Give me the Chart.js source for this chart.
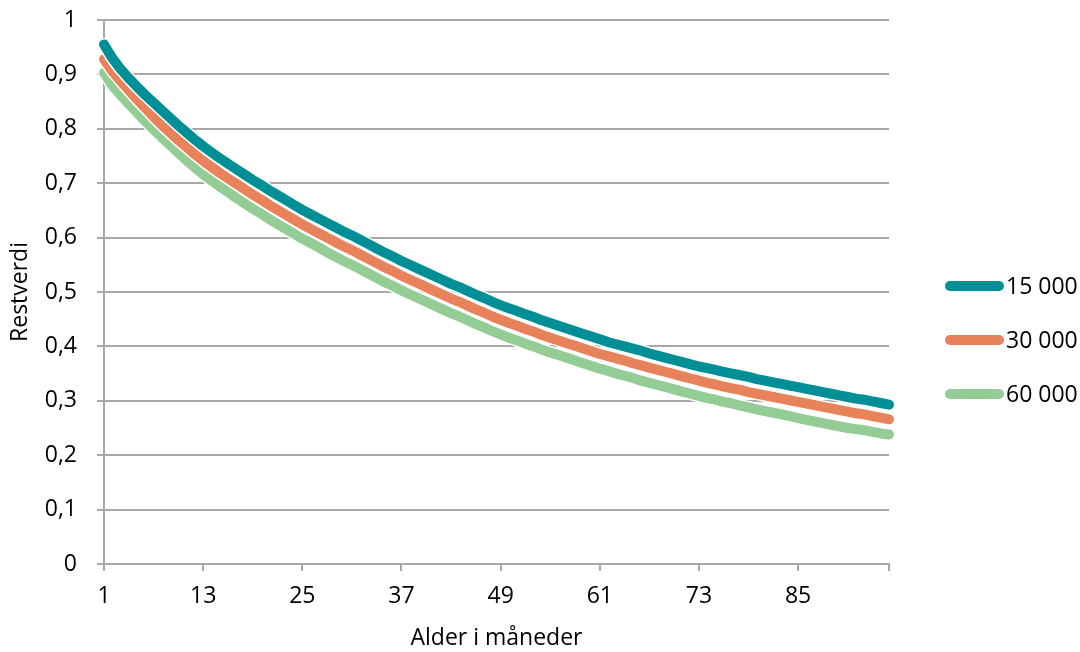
<!DOCTYPE html>
<html>
<head>
<meta charset="utf-8">
<title>Restverdi</title>
<script src="https://cdn.jsdelivr.net/npm/chart.js@4/dist/chart.umd.min.js"></script>
<style>
  html, body { margin: 0; padding: 0; background: #fff; }
  canvas { display: block; }
</style>
</head>
<body>
<canvas id="restverdi-chart" width="1080" height="652"></canvas>
<script>
// months 1..96
const months = Array.from({ length: 96 }, (_, i) => String(i + 1));
const shownMonths = ['1', '13', '25', '37', '49', '61', '73', '85'];

const seriesNames = ['15 000', '30 000', '60 000'];

const km15000 = [
    0.955, 0.930, 0.910, 0.893, 0.877, 0.862, 0.848, 0.834, 0.820, 0.806, 0.793, 0.780,
    0.768, 0.757, 0.746, 0.736, 0.726, 0.716, 0.706, 0.697, 0.687, 0.678, 0.669, 0.660,
    0.651, 0.643, 0.635, 0.627, 0.619, 0.611, 0.604, 0.596, 0.588, 0.580, 0.572, 0.565,
    0.557, 0.550, 0.543, 0.536, 0.529, 0.522, 0.515, 0.509, 0.502, 0.495, 0.489, 0.482,
    0.476, 0.470, 0.465, 0.459, 0.454, 0.448, 0.443, 0.438, 0.433, 0.428, 0.423, 0.418,
    0.413, 0.408, 0.404, 0.400, 0.396, 0.392, 0.387, 0.383, 0.379, 0.375, 0.371, 0.367,
    0.363, 0.360, 0.357, 0.353, 0.350, 0.347, 0.344, 0.340, 0.337, 0.334, 0.331, 0.328,
    0.325, 0.322, 0.319, 0.316, 0.313, 0.310, 0.307, 0.304, 0.302, 0.299, 0.296, 0.293
];

const km30000 = [
    0.928, 0.906, 0.888, 0.871, 0.854, 0.838, 0.822, 0.807, 0.793, 0.779, 0.766, 0.753,
    0.741, 0.730, 0.719, 0.709, 0.699, 0.689, 0.679, 0.670, 0.660, 0.651, 0.642, 0.633,
    0.624, 0.616, 0.608, 0.600, 0.592, 0.584, 0.577, 0.569, 0.561, 0.553, 0.545, 0.538,
    0.530, 0.523, 0.516, 0.509, 0.502, 0.495, 0.488, 0.482, 0.475, 0.468, 0.462, 0.455,
    0.449, 0.443, 0.438, 0.432, 0.427, 0.421, 0.416, 0.411, 0.406, 0.401, 0.396, 0.391,
    0.386, 0.382, 0.378, 0.374, 0.369, 0.365, 0.361, 0.357, 0.353, 0.349, 0.345, 0.341,
    0.337, 0.333, 0.330, 0.326, 0.323, 0.320, 0.316, 0.313, 0.310, 0.307, 0.304, 0.301,
    0.298, 0.295, 0.292, 0.289, 0.286, 0.283, 0.280, 0.277, 0.275, 0.272, 0.269, 0.266
];

const km60000 = [
    0.903, 0.880, 0.862, 0.846, 0.830, 0.814, 0.799, 0.784, 0.770, 0.756, 0.742, 0.729,
    0.716, 0.705, 0.694, 0.684, 0.673, 0.663, 0.653, 0.644, 0.634, 0.625, 0.616, 0.607,
    0.598, 0.590, 0.582, 0.573, 0.565, 0.557, 0.550, 0.542, 0.534, 0.526, 0.518, 0.511,
    0.503, 0.496, 0.489, 0.482, 0.475, 0.468, 0.461, 0.455, 0.448, 0.441, 0.435, 0.428,
    0.422, 0.416, 0.411, 0.405, 0.400, 0.394, 0.389, 0.384, 0.379, 0.374, 0.369, 0.364,
    0.359, 0.355, 0.350, 0.346, 0.342, 0.337, 0.333, 0.329, 0.325, 0.321, 0.317, 0.313,
    0.309, 0.305, 0.302, 0.298, 0.295, 0.291, 0.288, 0.284, 0.281, 0.278, 0.275, 0.272,
    0.268, 0.265, 0.262, 0.259, 0.256, 0.253, 0.250, 0.248, 0.246, 0.243, 0.240, 0.238
];

const colors = ['#008F96', '#E8825A', '#93CC95'];
const gridGray = '#A8A8A8';

Chart.defaults.font.family = "'Open Sans', sans-serif";
Chart.defaults.font.size = 23;
Chart.defaults.color = '#000';

// thin white edge under each line, so overlapping lines stay apart
const whiteEdge = {
    id: 'whiteEdge',
    beforeDatasetDraw(chart, args) {
        const pts = args.meta.data;
        const ctx = chart.ctx;
        ctx.save();
        ctx.strokeStyle = '#fff';
        ctx.lineWidth = 13;
        ctx.lineCap = 'round';
        ctx.lineJoin = 'round';
        ctx.beginPath();
        pts.forEach((p, i) => i ? ctx.lineTo(p.x, p.y) : ctx.moveTo(p.x, p.y));
        ctx.stroke();
        ctx.restore();
    }
};

// legend at the right, line sample + name
const sideLegend = {
    id: 'sideLegend',
    afterDraw(chart) {
        const ctx = chart.ctx;
        const x0 = 950, x1 = 999, textX = 1006;
        const top = 286, gap = 54;
        ctx.save();
        ctx.font = "23px 'Open Sans', sans-serif";
        ctx.textBaseline = 'middle';
        ctx.fillStyle = '#000';
        chart.data.datasets.forEach((ds, i) => {
            const y = top + i * gap;
            ctx.strokeStyle = ds.borderColor;
            ctx.lineWidth = 10;
            ctx.lineCap = 'round';
            ctx.beginPath();
            ctx.moveTo(x0, y);
            ctx.lineTo(x1, y);
            ctx.stroke();
            ctx.fillText(ds.label, textX, y + 1);
        });
        ctx.restore();
    }
};

const makeSet = (i, data) => ({
    label: seriesNames[i],
    data: data,
    borderColor: colors[i],
    backgroundColor: colors[i],
    borderWidth: 10,
    borderCapStyle: 'round',
    borderJoinStyle: 'round',
    pointRadius: 0,
    tension: 0,
    clip: false
});

const ctx = document.getElementById('restverdi-chart').getContext('2d');
const chart = new Chart(ctx, {
    type: 'line',
    data: {
        labels: months,
        datasets: [makeSet(0, km15000), makeSet(1, km30000), makeSet(2, km60000)]
    },
    plugins: [whiteEdge, sideLegend],
    options: {
        responsive: false,
        animation: false,
        layout: { padding: { top: 20, right: 191, bottom: 0, left: 0 } },
        plugins: {
            legend: { display: false },
            tooltip: { enabled: false }
        },
        scales: {
            x: {
                type: 'category',
                offset: false,
                afterFit(scale) { scale.height = 88; },
                border: { display: true, color: gridGray, width: 2 },
                grid: {
                    drawOnChartArea: false,
                    drawTicks: true,
                    tickLength: 7,
                    lineWidth: 2,
                    color: c => (c.index % 12 === 0 || c.index === months.length - 1) ? gridGray : 'rgba(0,0,0,0)'
                },
                ticks: {
                    autoSkip: false,
                    maxRotation: 0,
                    padding: 12,
                    callback(val, i) {
                        const m = months[i];
                        return shownMonths.includes(m) ? m : '';
                    }
                },
                title: {
                    display: true,
                    text: 'Alder i måneder',
                    padding: { top: 0, bottom: 0 }
                }
            },
            y: {
                min: 0,
                max: 1,
                afterFit(scale) {
                    scale.width = 104;
                    scale.paddingTop = 0;
                    scale.paddingBottom = 0;
                },
                border: { display: true, color: gridGray, width: 2 },
                grid: {
                    color: gridGray,
                    lineWidth: 2,
                    tickLength: 7
                },
                ticks: {
                    stepSize: 0.1,
                    padding: 20,
                    callback: v => (v === 0 || v === 1) ? String(v) : v.toFixed(1).replace('.', ',')
                },
                title: {
                    display: true,
                    text: 'Restverdi',
                    padding: { top: 7, bottom: 0 }
                }
            }
        }
    }
});
</script>
</body>
</html>
